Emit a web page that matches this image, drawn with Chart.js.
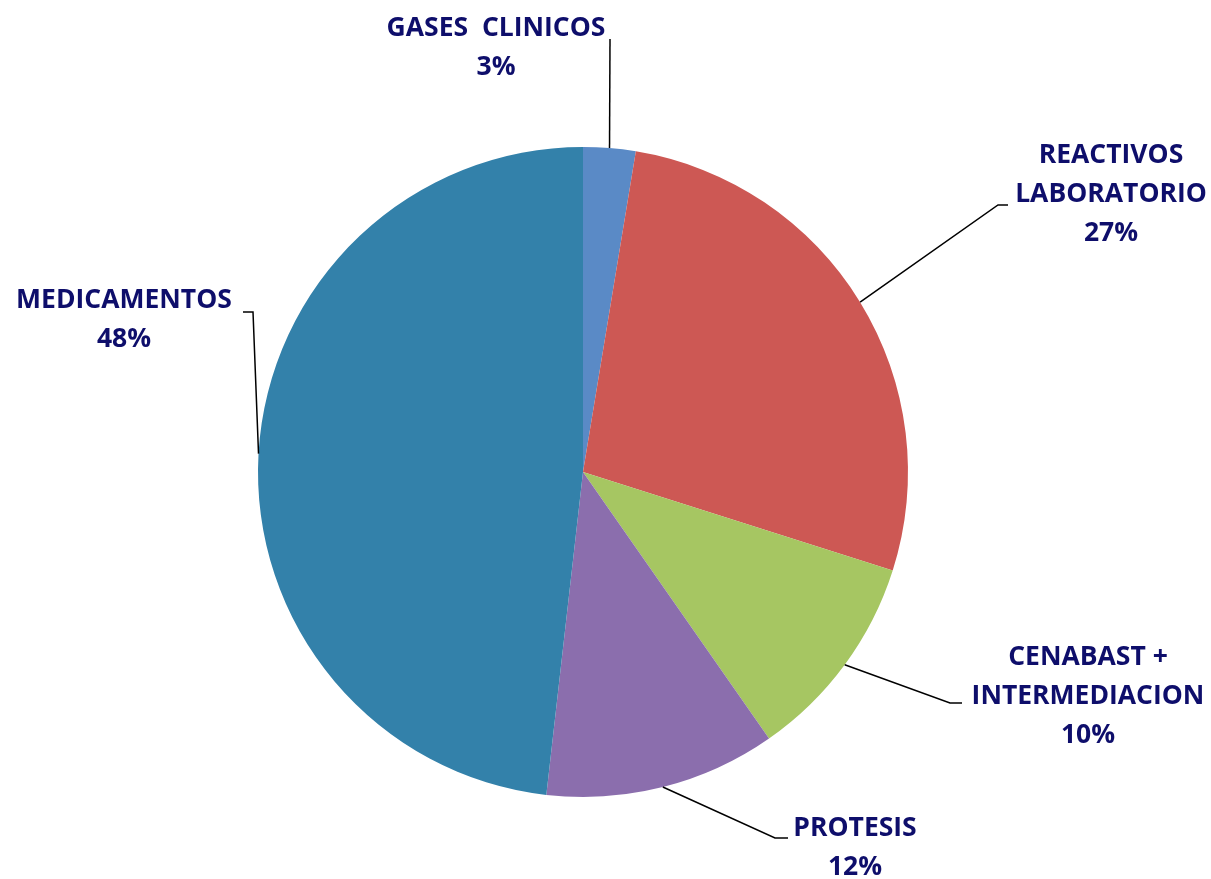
<!DOCTYPE html>
<html>
<head>
<meta charset="utf-8">
<script src="https://cdn.jsdelivr.net/npm/chart.js@4.4.0/dist/chart.umd.min.js"></script>
<style>
  body { margin: 0; background: #fff; }
  #wrap { width: 1211px; height: 879px; position: relative; }
</style>
</head>
<body>
<div id="wrap"><canvas id="pie"></canvas></div>
<script>
// categories and values (share of total, %)
const categories = ["GASES  CLINICOS", "REACTIVOS LABORATORIO", "CENABAST + INTERMEDIACION", "PROTESIS", "MEDICAMENTOS"];
const labelLines = [["GASES  CLINICOS"], ["REACTIVOS", "LABORATORIO"], ["CENABAST +", "INTERMEDIACION"], ["PROTESIS"], ["MEDICAMENTOS"]];
const values = [2.6, 27.3, 10.4, 11.5, 48.2];
const colors = ["#5A8AC6", "#CD5854", "#A6C662", "#8B6EAD", "#3381AA"];

// where each label sits, in px relative to the pie center (for radius 325)
// elbow = end of the slanted leader, tail = end of short horizontal piece
const labelLayout = [
  { elbow: [27, -433], tail: [27, -433], text: [-87, -444] },
  { elbow: [415, -267], tail: [425, -267], text: [528, -317] },
  { elbow: [367, 231], tail: [379, 231], text: [505, 185] },
  { elbow: [192, 366], tail: [205, 366], text: [272, 356] },
  { elbow: [-330, -160], tail: [-340, -160], text: [-459, -172] }
];

const leaderLabels = {
  id: "leaderLabels",
  afterDraw(chart) {
    const ctx = chart.ctx;
    const arcs = chart.getDatasetMeta(0).data;
    const total = values.reduce((a, b) => a + b, 0);
    arcs.forEach((arc, i) => {
      const { x, y, outerRadius, startAngle, endAngle } = arc.getProps(["x", "y", "outerRadius", "startAngle", "endAngle"], true);
      const k = outerRadius / 325;
      const mid = (startAngle + endAngle) / 2;
      const sx = x + Math.cos(mid) * outerRadius;
      const sy = y + Math.sin(mid) * outerRadius;
      const L = labelLayout[i];
      ctx.save();
      ctx.strokeStyle = "#000";
      ctx.lineWidth = 1.5;
      ctx.beginPath();
      ctx.moveTo(sx, sy);
      ctx.lineTo(x + L.elbow[0] * k, y + L.elbow[1] * k);
      ctx.lineTo(x + L.tail[0] * k, y + L.tail[1] * k);
      ctx.stroke();

      ctx.fillStyle = "#0E0E6B";
      ctx.font = "bold 26.5px 'Open Sans', sans-serif";
      ctx.textAlign = "center";
      ctx.textBaseline = "middle";
      const lines = labelLines[i].concat([Math.round(values[i] / total * 100) + "%"]);
      const tx = x + L.text[0] * k;
      let ty = y + L.text[1] * k;
      lines.forEach(line => {
        ctx.fillText(line, tx, ty);
        ty += 39;
      });
      ctx.restore();
    });
  }
};

new Chart(document.getElementById("pie"), {
  type: "pie",
  data: {
    labels: categories,
    datasets: [{
      data: values,
      backgroundColor: colors,
      borderWidth: 0
    }]
  },
  options: {
    responsive: true,
    maintainAspectRatio: false,
    animation: false,
    layout: { padding: { left: 200, right: 245, top: 147, bottom: 82 } },
    plugins: {
      legend: { display: false },
      tooltip: { enabled: false }
    }
  },
  plugins: [leaderLabels]
});
</script>
</body>
</html>
